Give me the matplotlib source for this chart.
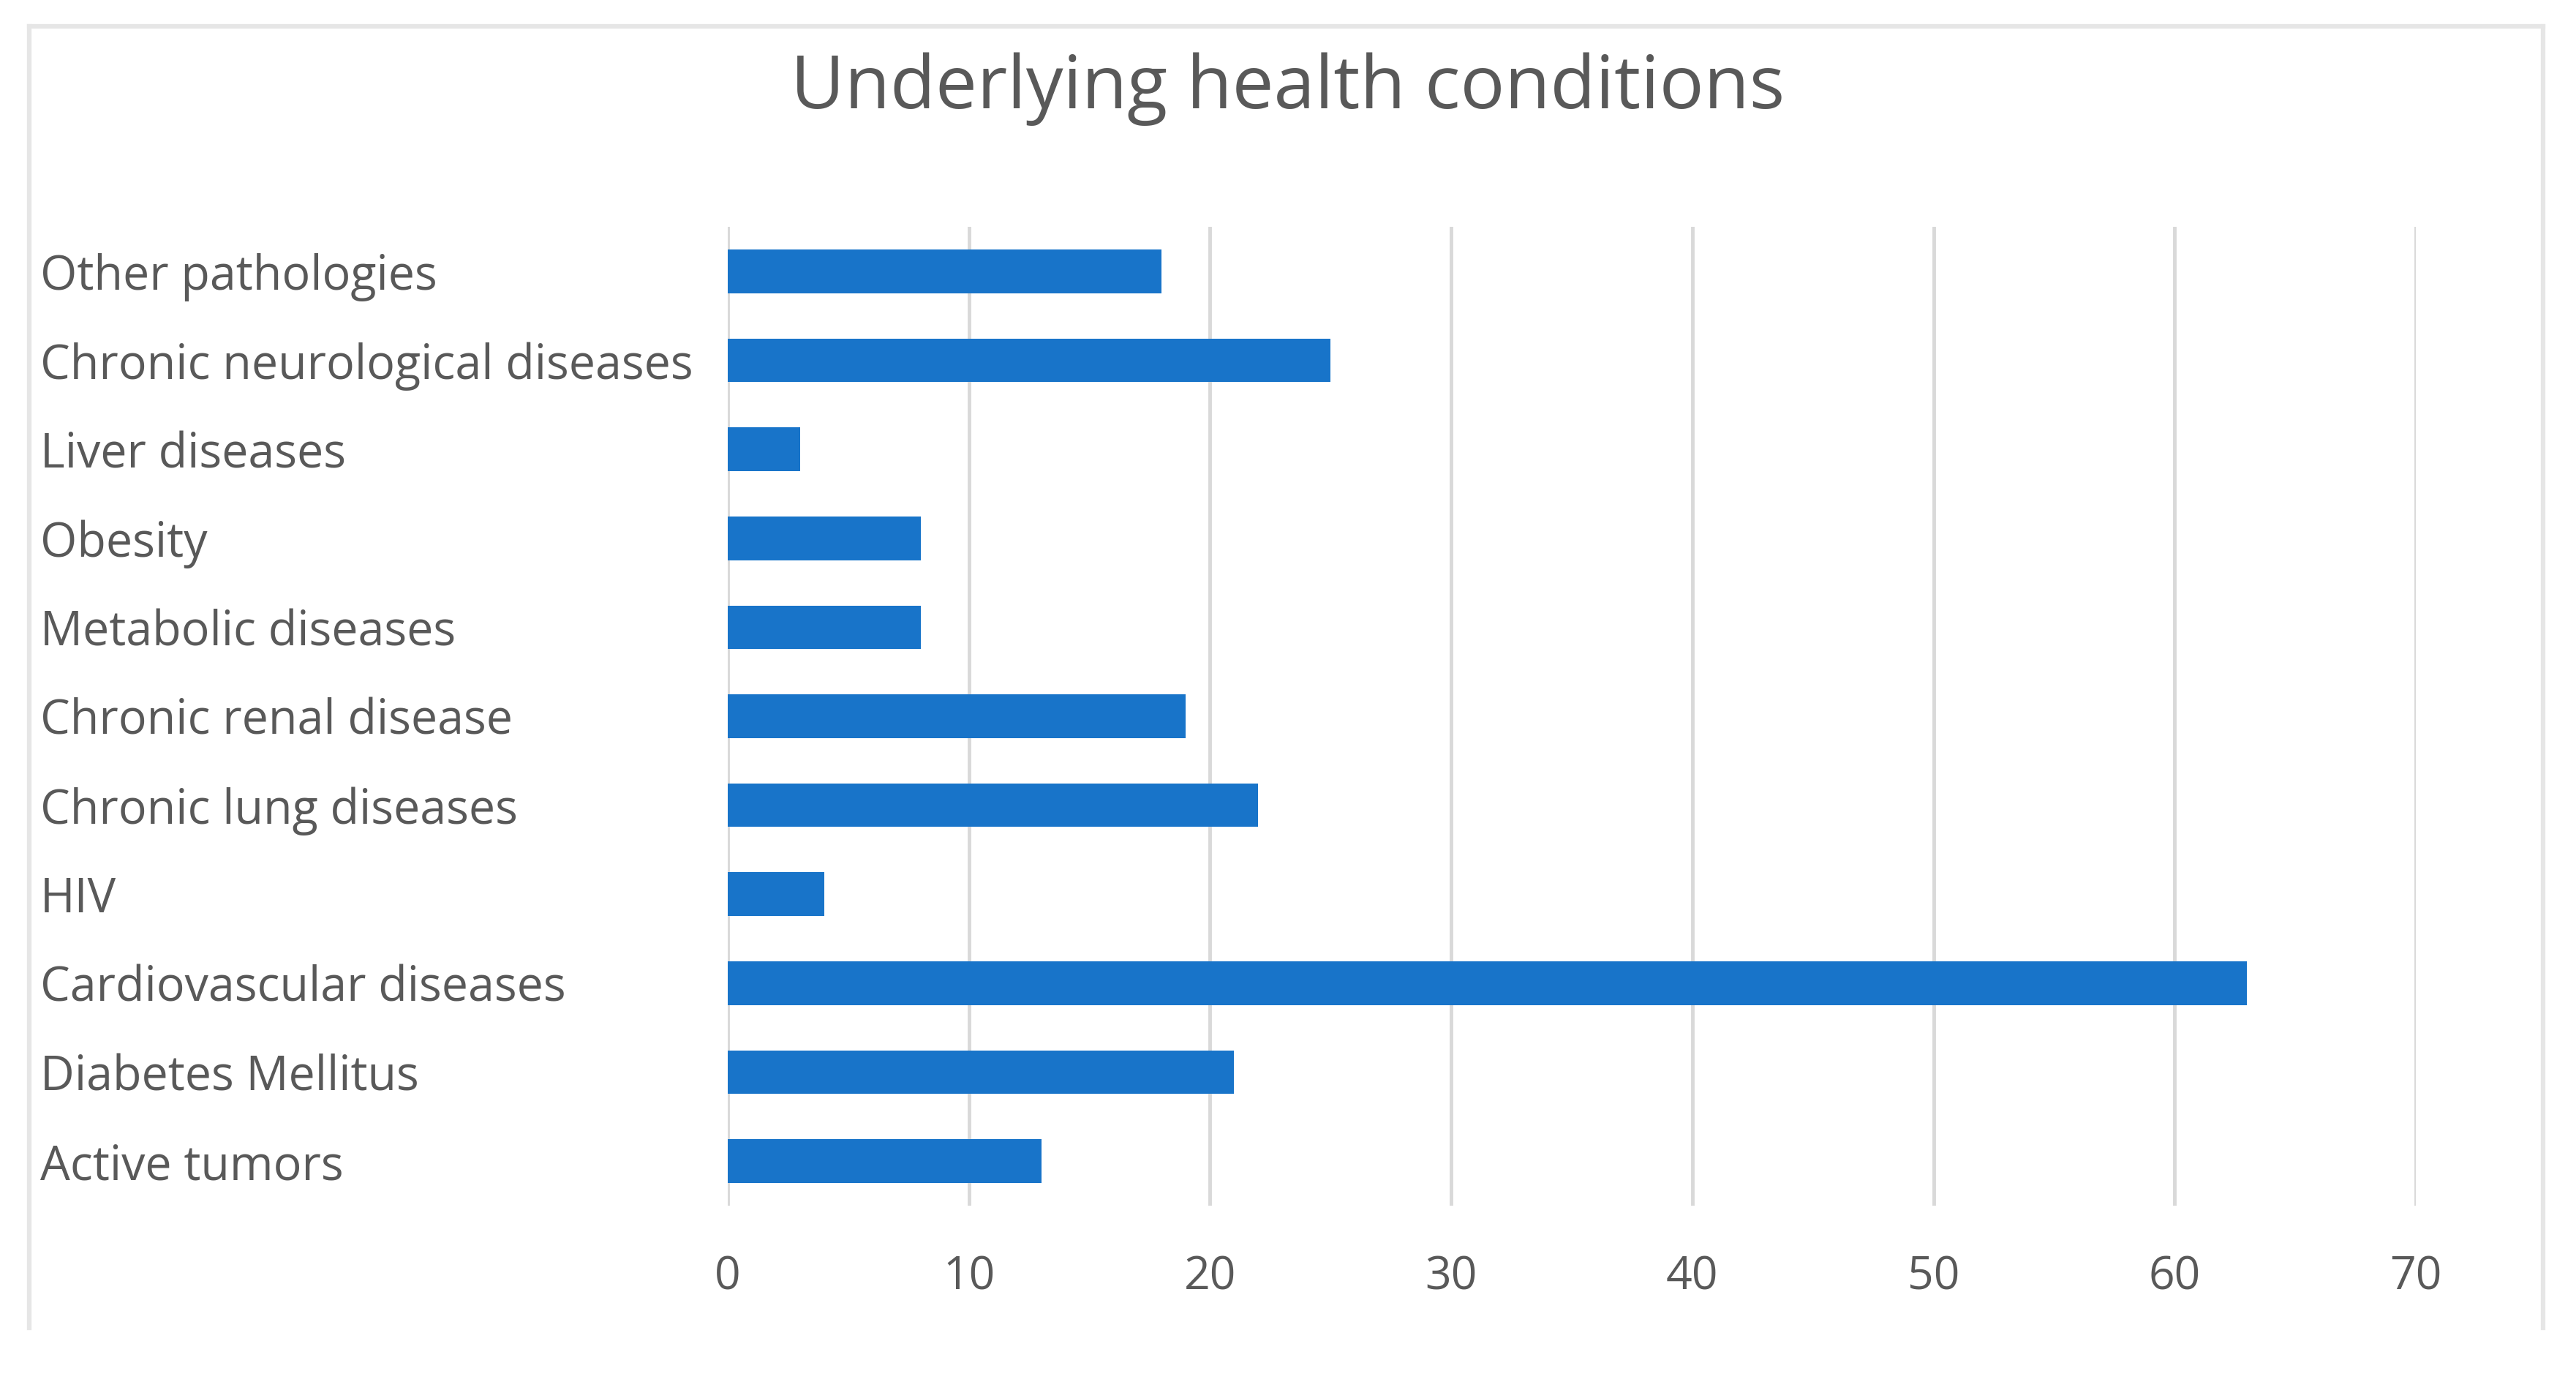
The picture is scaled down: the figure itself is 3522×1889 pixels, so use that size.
import matplotlib.pyplot as plt

# Underlying health conditions (top to bottom as shown in chart)
conditions = [
    "Other pathologies",
    "Chronic neurological diseases",
    "Liver diseases",
    "Obesity",
    "Metabolic diseases",
    "Chronic renal disease",
    "Chronic lung diseases",
    "HIV",
    "Cardiovascular diseases",
    "Diabetes Mellitus",
    "Active tumors",
]
counts = [18, 25, 3, 8, 8, 19, 22, 4, 63, 21, 13]
x_ticks = [0, 10, 20, 30, 40, 50, 60, 70]

text_color = "#595959"
bar_color = "#1874c9"
grid_color = "#d9d9d9"

plt.rcParams["font.family"] = ["Open Sans", "DejaVu Sans"]

fig = plt.figure(figsize=(35.22, 18.89), dpi=100)
ax = fig.add_axes([0.2825, 0.1276, 0.6553, 0.7083])

# chart border (no bottom edge, as in the original)
fig.add_artist(plt.Line2D([40 / 3522, 40 / 3522], [1 - 1815 / 1889, 1 - 36 / 1889],
                          color="#e6e6e6", lw=4.5, transform=fig.transFigure))
fig.add_artist(plt.Line2D([3477 / 3522, 3477 / 3522], [1 - 1815 / 1889, 1 - 36 / 1889],
                          color="#e6e6e6", lw=4.5, transform=fig.transFigure))
fig.add_artist(plt.Line2D([40 / 3522, 3477 / 3522], [1 - 36 / 1889, 1 - 36 / 1889],
                          color="#e6e6e6", lw=4.5, transform=fig.transFigure))

y = list(range(len(conditions)))[::-1]
ax.barh(y, counts, height=0.49, color=bar_color, zorder=3)

ax.set_xlim(0, 70)
ax.set_ylim(-0.5, len(conditions) - 0.5)
ax.set_xticks(x_ticks)
ax.set_xticklabels([str(t) for t in x_ticks])
ax.set_yticks(y)
ax.set_yticklabels(conditions)

ax.grid(axis="x", color=grid_color, lw=3.5, zorder=0)
for s in ax.spines.values():
    s.set_visible(False)

ax.tick_params(axis="both", length=0, labelcolor=text_color)
ax.tick_params(axis="y", pad=677, labelsize=46.5)
ax.tick_params(axis="x", pad=48, labelsize=45)
for lab in ax.get_yticklabels():
    lab.set_horizontalalignment("left")

fig.text(0.5, 1 - 122 / 1889, "Underlying health conditions", ha="center", va="center",
         fontsize=73, color=text_color)

fig.savefig("out.png", dpi=100)
